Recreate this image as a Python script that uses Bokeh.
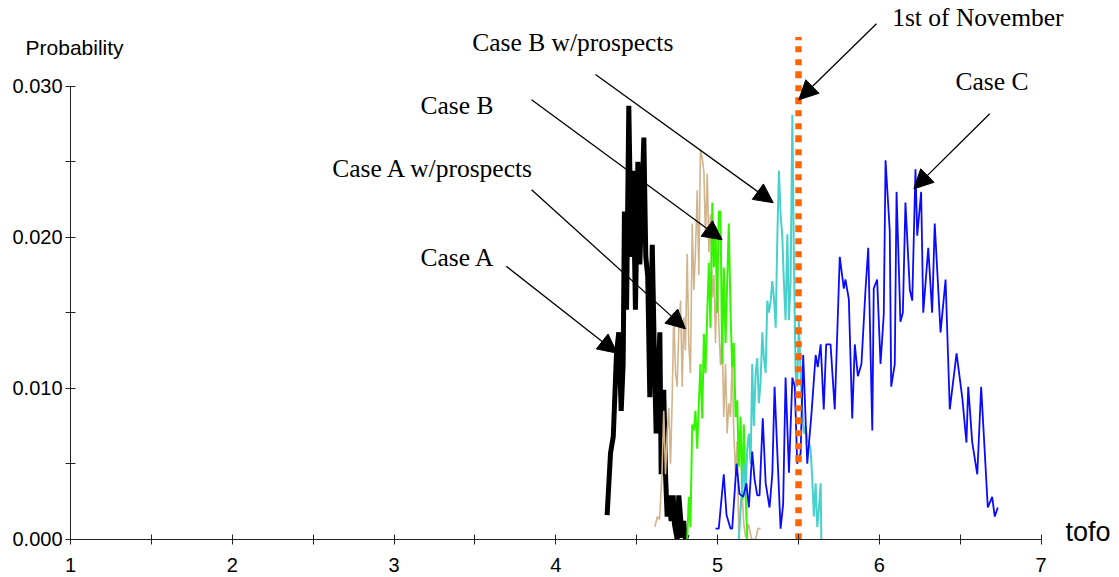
from bokeh.plotting import figure
from bokeh.models import Range1d, FixedTicker, NumeralTickFormatter, Label, Arrow, NormalHead
from bokeh.embed import file_html
from bokeh.resources import INLINE

# --- probability of tofo for each case -------------------------------------
case_a_tofo = [4.317, 4.338, 4.355, 4.375, 4.389, 4.404, 4.416, 4.424, 4.437, 4.451,
               4.466, 4.478, 4.492, 4.507, 4.519, 4.534, 4.544, 4.556, 4.568, 4.581,
               4.596, 4.610, 4.620, 4.643, 4.651, 4.667, 4.678, 4.688, 4.698, 4.713,
               4.725, 4.733, 4.750, 4.760, 4.781, 4.790, 4.801, 4.812]
case_a_prob = [0.0016, 0.0057, 0.0068, 0.0123, 0.0137, 0.0085, 0.0116, 0.0217, 0.0152, 0.0287,
               0.0187, 0.0244, 0.0152, 0.0250, 0.0182, 0.0231, 0.0266, 0.0187, 0.0174, 0.0094,
               0.0195, 0.0116, 0.0070, 0.0137, 0.0043, 0.0099, 0.0043, 0.0015, 0.0029, 0.0012,
               0.0029, 0.0010, 0.0000, 0.0029, 0.0001, 0.0012, 0.0000, 0.0003]

case_a_wp_tofo = [4.612, 4.627, 4.641, 4.656, 4.667, 4.678, 4.688, 4.698, 4.709, 4.719,
                  4.729, 4.740, 4.750, 4.760, 4.771, 4.781, 4.791, 4.801, 4.812, 4.822,
                  4.832, 4.843, 4.853, 4.863, 4.874, 4.884, 4.894, 4.905, 4.915, 4.925,
                  4.936, 4.946, 4.956, 4.967, 4.977, 4.987, 4.997, 5.007, 5.018, 5.028,
                  5.038, 5.049, 5.059, 5.069, 5.080, 5.090, 5.100, 5.111, 5.121, 5.131,
                  5.142, 5.152, 5.162, 5.173, 5.191, 5.210, 5.235, 5.249, 5.266]
case_a_wp_prob = [0.0008, 0.0015, 0.0013, 0.0043, 0.0085, 0.0043, 0.0070, 0.0087, 0.0050, 0.0092,
                  0.0150, 0.0110, 0.0101, 0.0138, 0.0158, 0.0101, 0.0147, 0.0125, 0.0189, 0.0129,
                  0.0110, 0.0209, 0.0165, 0.0190, 0.0231, 0.0175, 0.0258, 0.0252, 0.0244, 0.0200,
                  0.0242, 0.0190, 0.0215, 0.0160, 0.0175, 0.0130, 0.0182, 0.0143, 0.0115, 0.0135,
                  0.0081, 0.0116, 0.0070, 0.0090, 0.0081, 0.0121, 0.0070, 0.0043, 0.0065, 0.0000,
                  0.0021, 0.0030, 0.0010, 0.0001, 0.0010, 0.0000, 0.0000, 0.0007, 0.0007]

case_b_tofo = [4.812, 4.822, 4.832, 4.843, 4.853, 4.863, 4.874, 4.884, 4.894, 4.905,
               4.915, 4.925, 4.936, 4.946, 4.956, 4.967, 4.977, 4.987, 4.997, 5.007,
               5.018, 5.028, 5.038, 5.049, 5.059, 5.069, 5.080, 5.090, 5.100, 5.111,
               5.121, 5.131, 5.142, 5.152, 5.162, 5.173, 5.183]
case_b_prob = [0.0000, 0.0028, 0.0008, 0.0076, 0.0072, 0.0085, 0.0060, 0.0090, 0.0116, 0.0080,
               0.0136, 0.0110, 0.0150, 0.0183, 0.0140, 0.0223, 0.0180, 0.0207, 0.0150, 0.0217,
               0.0217, 0.0116, 0.0180, 0.0130, 0.0170, 0.0209, 0.0150, 0.0114, 0.0130, 0.0081,
               0.0092, 0.0048, 0.0081, 0.0026, 0.0076, 0.0030, 0.0000]

case_b_wp_tofo = [5.131, 5.142, 5.152, 5.162, 5.173, 5.183, 5.193, 5.204, 5.214, 5.224,
                  5.235, 5.245, 5.255, 5.266, 5.276, 5.286, 5.297, 5.307, 5.317, 5.328,
                  5.338, 5.348, 5.359, 5.369, 5.379, 5.389, 5.400, 5.410, 5.420, 5.431,
                  5.441, 5.451, 5.462, 5.472, 5.482, 5.492, 5.502, 5.513, 5.523, 5.534,
                  5.544, 5.554, 5.564, 5.575, 5.585, 5.595, 5.606, 5.616, 5.626, 5.637,
                  5.641]
case_b_wp_prob = [0.0000, 0.0020, 0.0035, 0.0050, 0.0030, 0.0060, 0.0070, 0.0050, 0.0116, 0.0075,
                  0.0110, 0.0120, 0.0090, 0.0105, 0.0137, 0.0120, 0.0110, 0.0158, 0.0150, 0.0158,
                  0.0171, 0.0160, 0.0140, 0.0200, 0.0244, 0.0216, 0.0200, 0.0169, 0.0145, 0.0202,
                  0.0145, 0.0170, 0.0281, 0.0180, 0.0110, 0.0101, 0.0145, 0.0110, 0.0085, 0.0070,
                  0.0075, 0.0065, 0.0064, 0.0059, 0.0040, 0.0015, 0.0037, 0.0008, 0.0020, 0.0037,
                  0.0000]

case_c_tofo = [4.987, 5.007, 5.038, 5.055, 5.080, 5.090, 5.117, 5.135, 5.158, 5.178,
               5.193, 5.214, 5.228, 5.245, 5.259, 5.279, 5.297, 5.321, 5.338, 5.352,
               5.370, 5.389, 5.405, 5.420, 5.441, 5.462, 5.477, 5.492, 5.513, 5.529,
               5.554, 5.580, 5.606, 5.619, 5.637, 5.656, 5.671, 5.698, 5.724, 5.755,
               5.780, 5.790, 5.811, 5.832, 5.848, 5.867, 5.889, 5.914, 5.931, 5.956,
               5.965, 5.986, 6.007, 6.027, 6.038, 6.064, 6.073, 6.095, 6.106, 6.130,
               6.145, 6.161, 6.188, 6.203, 6.223, 6.234, 6.258, 6.271, 6.302, 6.326,
               6.342, 6.378, 6.409, 6.435, 6.477, 6.512, 6.538, 6.549, 6.574, 6.605,
               6.629, 6.670, 6.697, 6.713, 6.732]
case_c_prob = [0.0007, 0.0007, 0.0043, 0.0016, 0.0007, 0.0007, 0.0050, 0.0030, 0.0028, 0.0037,
               0.0021, 0.0058, 0.0040, 0.0029, 0.0029, 0.0080, 0.0037, 0.0021, 0.0043, 0.0101,
               0.0055, 0.0007, 0.0023, 0.0107, 0.0044, 0.0107, 0.0101, 0.0050, 0.0057, 0.0122,
               0.0050, 0.0083, 0.0122, 0.0114, 0.0129, 0.0086, 0.0129, 0.0129, 0.0086, 0.0187,
               0.0166, 0.0172, 0.0159, 0.0080, 0.0129, 0.0108, 0.0116, 0.0165, 0.0193, 0.0072,
               0.0166, 0.0172, 0.0116, 0.0149, 0.0251, 0.0204, 0.0101, 0.0116, 0.0230, 0.0144,
               0.0150, 0.0223, 0.0165, 0.0158, 0.0245, 0.0201, 0.0230, 0.0150, 0.0193, 0.0150,
               0.0209, 0.0137, 0.0172, 0.0086, 0.0123, 0.0094, 0.0064, 0.0101, 0.0064, 0.0043,
               0.0101, 0.0021, 0.0028, 0.0015, 0.0021]

# 1st of November, and how high its marker reaches
november_1st = 5.5
november_top = 0.03325

# --- axes ------------------------------------------------------------------
x_ticks = [1, 2, 3, 4, 5, 6, 7]
x_minor_ticks = [1.5, 2.5, 3.5, 4.5, 5.5, 6.5]
y_ticks = [0.0, 0.01, 0.02, 0.03]
y_minor_ticks = [0.005, 0.015, 0.025]

# --- callouts: text anchor (left, baseline) and arrow from/to --------------
callout_text = ["1st of November", "Case B w/prospects", "Case C",
                "Case B", "Case A w/prospects", "Case A"]
callout_x = [6.079, 3.483, 6.470, 3.163, 2.618, 3.163]
callout_y = [0.03358, 0.03192, 0.02938, 0.02777, 0.02358, 0.01768]
arrow_x0 = [5.982, 4.245, 6.682, 3.850, 3.850, 3.693]
arrow_y0 = [0.03413, 0.03077, 0.02817, 0.02910, 0.02314, 0.01808]
arrow_x1 = [5.502, 5.344, 6.213, 5.028, 4.801, 4.379]
arrow_y1 = [0.02910, 0.02228, 0.02320, 0.01983, 0.01393, 0.01232]

# the plotting area fills the page; the two axes sit at tofo = 1 and p = 0
p = figure(width=1119, height=577, output_backend="svg", toolbar_location=None,
           x_range=Range1d(0.5673, 7.4841), y_range=Range1d(-0.002536, 0.035675),
           min_border_left=0, min_border_right=0, min_border_top=0, min_border_bottom=0,
           background_fill_color="white", border_fill_color="white")
p.outline_line_color = None
p.grid.visible = False

# series
p.line(case_a_tofo, case_a_prob, line_color="black", line_width=5)
p.line(case_a_wp_tofo, case_a_wp_prob, line_color="#D2B48C", line_width=1.6)
p.line(case_b_tofo, case_b_prob, line_color="#33F500", line_width=2)
p.line(case_b_wp_tofo, case_b_wp_prob, line_color="#48D1CC", line_width=2)
p.line(case_c_tofo, case_c_prob, line_color="#0A0AFF", line_width=1.8)

# dotted marker at 1st of November
p.line([november_1st, november_1st], [0, november_top], line_color="#FF6600",
       line_width=6.5, line_dash="6 7 7 6 6 7 6 6 7 6", line_cap="butt")

for ax in (p.xaxis, p.yaxis):
    ax.axis_line_color = "#222222"
    ax.major_tick_line_color = "#222222"
    ax.minor_tick_line_color = "#222222"
    ax.major_tick_in = 5
    ax.major_tick_out = 5
    ax.minor_tick_in = 5
    ax.minor_tick_out = 5
    ax.major_label_text_font = "Liberation Sans"
    ax.major_label_text_font_size = "20px"
    ax.major_label_text_color = "black"

p.xaxis.ticker = FixedTicker(ticks=x_ticks, minor_ticks=x_minor_ticks)
p.xaxis.bounds = (1, 7)
p.xaxis.fixed_location = 0
p.xaxis.major_label_standoff = 14

p.yaxis.ticker = FixedTicker(ticks=y_ticks, minor_ticks=y_minor_ticks)
p.yaxis.formatter = NumeralTickFormatter(format="0.000")
p.yaxis.bounds = (0, 0.03)
p.yaxis.fixed_location = 1
p.yaxis.major_label_standoff = 3

# axis titles
p.add_layout(Label(x=0.722, y=0.03181, text="Probability", text_font="Liberation Sans",
                   text_font_size="21px", text_color="black"))
p.add_layout(Label(x=7.150, y=-0.00053, text="tofo", text_font="Liberation Sans",
                   text_font_size="27px", text_color="black"))

# callouts
for t, tx, ty, x0, y0, x1, y1 in zip(callout_text, callout_x, callout_y,
                                      arrow_x0, arrow_y0, arrow_x1, arrow_y1):
    p.add_layout(Label(x=tx, y=ty, text=t, text_font="Liberation Serif",
                       text_font_size="25.5px", text_color="black"))
    p.add_layout(Arrow(x_start=x0, y_start=y0, x_end=x1, y_end=y1,
                       line_color="black", line_width=1.3,
                       end=NormalHead(size=19, fill_color="black", line_color="black",
                                      line_width=1)))

open("out.html", "w").write(file_html(p, INLINE))
